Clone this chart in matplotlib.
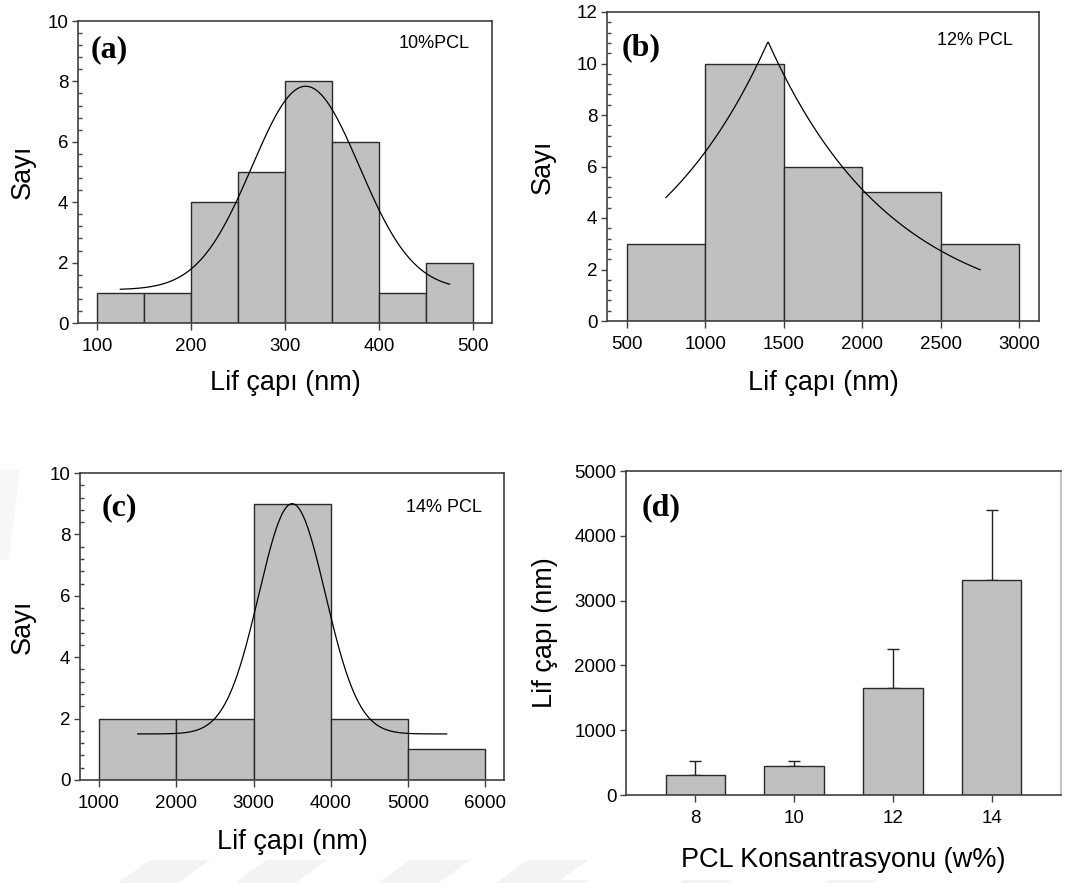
import numpy as np
import matplotlib
matplotlib.use("Agg")
import matplotlib.pyplot as plt
from matplotlib.ticker import AutoMinorLocator
from matplotlib.patches import Polygon

plt.rcParams['font.family'] = ['Liberation Sans', 'DejaVu Sans']

# ---------------- data ----------------
# (a) 10% PCL histogram
a_edges = [100, 150, 200, 250, 300, 350, 400, 450, 500]
a_counts = [1, 1, 4, 5, 8, 6, 1, 2]
# Gaussian fit (baseline, amplitude, centre, sigma), drawn over range
a_fit = dict(y0=1.1, amp=6.74, x0=322, s=57)
a_fit_range = (125, 475)

# (b) 12% PCL histogram
b_edges = [500, 1000, 1500, 2000, 2500, 3000]
b_counts = [3, 10, 6, 5, 3]
# double exponential fit (amplitude, centre, decay length)
b_fit = dict(amp=10.85, x0=1400, tau=796)
b_fit_range = (750, 2750)

# (c) 14% PCL histogram
c_edges = [1000, 2000, 3000, 4000, 5000, 6000]
c_counts = [2, 2, 9, 2, 1]
c_fit = dict(y0=1.5, amp=7.5, x0=3500, s=431)
c_fit_range = (1500, 5500)

# (d) mean fibre diameter vs concentration
d_conc = [8, 10, 12, 14]
d_mean = [313, 447, 1658, 3321]
d_err = [205, 82, 596, 1073]

BAR = '#c0c0c0'
EDGE = '#2a2a2a'
SPINE = '#404040'
TICK_FS = 13.5
LABEL_FS = 19.5
ANN_FS = 13
PANEL_FS = 23

W, H = 1082, 883
fig = plt.figure(figsize=(W / 100, H / 100), dpi=100)

# faint background watermark stripes
wm = fig.add_axes([0, 0, 1, 1], zorder=-10)
wm.set_xlim(0, W); wm.set_ylim(H, 0); wm.axis('off')
for xt in [150, 267, 410, 528]:
    wm.add_patch(Polygon([[xt, 860], [xt + 60, 860], [xt + 28, 883], [xt - 32, 883]],
                         closed=True, color='#f3f3f3', lw=0))
for xt in [541, 683, 829]:
    wm.add_patch(Polygon([[xt, 880], [xt + 48, 880], [xt + 45, 883], [xt - 3, 883]],
                         closed=True, color='#f3f3f3', lw=0))
wm.add_patch(Polygon([[0, 470], [20, 470], [9, 560], [0, 560]], closed=True,
                     color='#f7f7f7', lw=0))


def add_ax(l, t, r, b):
    return fig.add_axes([l / W, 1 - b / H, (r - l) / W, (b - t) / H])


def style(ax, minor=True):
    for sp in ax.spines.values():
        sp.set_color(SPINE)
        sp.set_linewidth(1.2)
    ax.tick_params(axis='x', direction='out', length=5, width=1, color=SPINE,
                   labelsize=TICK_FS, pad=6)
    ax.tick_params(axis='y', direction='out', length=4, width=1, color=SPINE,
                   labelsize=TICK_FS, pad=3)
    if minor:
        ax.yaxis.set_minor_locator(AutoMinorLocator(5))
        ax.tick_params(axis='y', which='minor', direction='in', length=3, width=1,
                       color=SPINE)


def hist(ax, edges, counts):
    edges = np.asarray(edges, float)
    ax.bar(edges[:-1], counts, width=np.diff(edges), align='edge', color=BAR,
           edgecolor=EDGE, linewidth=1.0, zorder=2)


def label_px(ax, xlab, ylab, xl_y, yl_x, bbox_px, size=LABEL_FS):
    l, t, r, b = bbox_px
    ax.set_xlabel(xlab, fontsize=size)
    ax.set_ylabel(ylab, fontsize=size)
    ax.xaxis.set_label_coords(0.5, (b - xl_y) / (b - t))
    ax.yaxis.set_label_coords((yl_x - l) / (r - l), 0.5)
    ax.xaxis.label.set_va('center')
    ax.yaxis.label.set_va('center')


panel_font = dict(family=['Liberation Serif', 'DejaVu Serif'], fontweight='bold',
                  fontsize=PANEL_FS)

# ---------- (a) ----------
bb = (78, 21, 492, 323)
ax = add_ax(*bb)
hist(ax, a_edges, a_counts)
xs = np.linspace(*a_fit_range, 300)
ax.plot(xs, a_fit['y0'] + a_fit['amp'] * np.exp(-0.5 * ((xs - a_fit['x0']) / a_fit['s']) ** 2),
        color='black', lw=0.9, zorder=3)
ax.set_xlim(80, 520); ax.set_ylim(0, 10)
ax.set_xticks([100, 200, 300, 400, 500]); ax.set_yticks([0, 2, 4, 6, 8, 10])
style(ax)
label_px(ax, 'Lif çapı (nm)', 'Sayı', 383, 23, bb)
ax.text(0.03, 0.905, '(a)', transform=ax.transAxes, ha='left', va='center', **panel_font)
ax.text(0.947, 0.927, '10%PCL', transform=ax.transAxes, ha='right', va='center', fontsize=ANN_FS)

# ---------- (b) ----------
bb = (607, 12, 1039, 321)
ax = add_ax(*bb)
hist(ax, b_edges, b_counts)
xs = np.linspace(*b_fit_range, 400)
ax.plot(xs, b_fit['amp'] * np.exp(-np.abs(xs - b_fit['x0']) / b_fit['tau']),
        color='black', lw=0.9, zorder=3)
ax.set_xlim(375, 3125); ax.set_ylim(0, 12)
ax.set_xticks([500, 1000, 1500, 2000, 2500, 3000]); ax.set_yticks(range(0, 13, 2))
style(ax)
label_px(ax, 'Lif çapı (nm)', 'Sayı', 383, 543, bb)
ax.text(0.035, 0.883, '(b)', transform=ax.transAxes, ha='left', va='center', **panel_font)
ax.text(0.94, 0.909, '12% PCL', transform=ax.transAxes, ha='right', va='center', fontsize=ANN_FS)

# ---------- (c) ----------
bb = (80, 473, 504, 780)
ax = add_ax(*bb)
hist(ax, c_edges, c_counts)
xs = np.linspace(*c_fit_range, 400)
ax.plot(xs, c_fit['y0'] + c_fit['amp'] * np.exp(-0.5 * ((xs - c_fit['x0']) / c_fit['s']) ** 2),
        color='black', lw=0.9, zorder=3)
ax.set_xlim(754, 6242); ax.set_ylim(0, 10)
ax.set_xticks(range(1000, 7000, 1000)); ax.set_yticks(range(0, 11, 2))
style(ax)
label_px(ax, 'Lif çapı (nm)', 'Sayı', 842, 23, bb)
ax.text(0.052, 0.886, '(c)', transform=ax.transAxes, ha='left', va='center', **panel_font)
ax.text(0.948, 0.886, '14% PCL', transform=ax.transAxes, ha='right', va='center', fontsize=ANN_FS)

# ---------- (d) ----------
bb = (626, 471, 1061, 795)
ax = add_ax(*bb)
ax.bar(d_conc, d_mean, width=1.2, color=BAR, edgecolor=EDGE, linewidth=1.0, zorder=2)
ax.errorbar(d_conc, d_mean, yerr=[np.zeros(len(d_err)), d_err], fmt='none',
            ecolor='#222222', elinewidth=1.0, capsize=4, capthick=1.0, zorder=1)
ax.set_xlim(6.6, 15.4); ax.set_ylim(0, 5000)
ax.set_xticks(d_conc); ax.set_yticks(range(0, 5001, 1000))
style(ax, minor=False)
ax.spines['right'].set_color('#bbbbbb')
label_px(ax, 'PCL Konsantrasyonu (w%)', 'Lif çapı (nm)', 860, 545, bb)
ax.text(0.037, 0.886, '(d)', transform=ax.transAxes, ha='left', va='center', **panel_font)

fig.savefig('out.png', dpi=100)
